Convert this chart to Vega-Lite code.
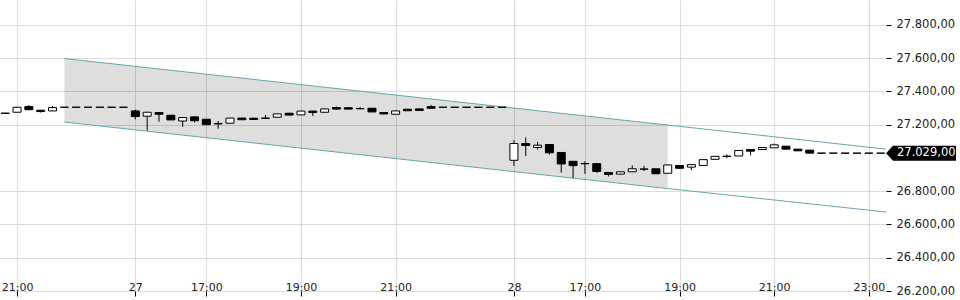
{
  "$schema": "https://vega.github.io/schema/vega-lite/v6.json",
  "width": 886,
  "height": 291,
  "autosize": "none",
  "padding": {"left": 0, "top": 0, "right": 74, "bottom": 9},
  "background": "white",
  "config": {
    "view": {"stroke": null},
    "font": "DejaVu Sans",
    "axisY": {
      "orient": "right", "title": null,
      "labelExpr": "replace(replace(replace(format(datum.value, ',.2f'), ',', '_'), '.', ','), '_', '.')",
      "grid": true, "gridColor": "#dcdcdc", "gridWidth": 1,
      "domain": false, "ticks": true, "tickColor": "#000000", "tickSize": 5,
      "labelPadding": 5, "labelFontSize": 11.5, "labelColor": "#222222", "labelFont": "DejaVu Sans",
      "labelFlush": false, "labelOverlap": false
    }
  },
  "datasets": {
    "candles": [
      {"s": -1, "o": 27268, "h": 27271, "l": 27265, "c": 27270},
      {"s": 0, "o": 27275, "h": 27306, "l": 27274, "c": 27305},
      {"s": 1, "o": 27309, "h": 27318, "l": 27289, "c": 27290},
      {"s": 2, "o": 27287, "h": 27288, "l": 27273, "c": 27279},
      {"s": 3, "o": 27283, "h": 27312, "l": 27282, "c": 27303},
      {"s": 4, "o": 27305, "h": 27305, "l": 27305, "c": 27305},
      {"s": 5, "o": 27305, "h": 27305, "l": 27305, "c": 27305},
      {"s": 6, "o": 27305, "h": 27305, "l": 27305, "c": 27305},
      {"s": 7, "o": 27305, "h": 27305, "l": 27305, "c": 27305},
      {"s": 8, "o": 27305, "h": 27305, "l": 27305, "c": 27305},
      {"s": 9, "o": 27305, "h": 27305, "l": 27305, "c": 27305},
      {"s": 10, "o": 27283, "h": 27290, "l": 27233, "c": 27249},
      {"s": 11, "o": 27251, "h": 27277, "l": 27164, "c": 27275},
      {"s": 12, "o": 27273, "h": 27275, "l": 27218, "c": 27263},
      {"s": 13, "o": 27257, "h": 27258, "l": 27228, "c": 27229},
      {"s": 14, "o": 27222, "h": 27244, "l": 27188, "c": 27243},
      {"s": 15, "o": 27247, "h": 27252, "l": 27214, "c": 27224},
      {"s": 16, "o": 27233, "h": 27234, "l": 27199, "c": 27200},
      {"s": 17, "o": 27205, "h": 27222, "l": 27176, "c": 27207},
      {"s": 18, "o": 27209, "h": 27241, "l": 27208, "c": 27240},
      {"s": 19, "o": 27240, "h": 27241, "l": 27229, "c": 27230},
      {"s": 20, "o": 27239, "h": 27241, "l": 27230, "c": 27232},
      {"s": 21, "o": 27238, "h": 27258, "l": 27237, "c": 27240},
      {"s": 22, "o": 27245, "h": 27266, "l": 27244, "c": 27265},
      {"s": 23, "o": 27269, "h": 27271, "l": 27256, "c": 27258},
      {"s": 24, "o": 27259, "h": 27283, "l": 27258, "c": 27282},
      {"s": 25, "o": 27282, "h": 27283, "l": 27253, "c": 27274},
      {"s": 26, "o": 27275, "h": 27297, "l": 27274, "c": 27295},
      {"s": 27, "o": 27303, "h": 27309, "l": 27292, "c": 27294},
      {"s": 28, "o": 27302, "h": 27306, "l": 27292, "c": 27294},
      {"s": 29, "o": 27296, "h": 27306, "l": 27294, "c": 27297},
      {"s": 30, "o": 27299, "h": 27300, "l": 27276, "c": 27277},
      {"s": 31, "o": 27273, "h": 27274, "l": 27260, "c": 27265},
      {"s": 32, "o": 27263, "h": 27284, "l": 27262, "c": 27283},
      {"s": 33, "o": 27293, "h": 27295, "l": 27282, "c": 27284},
      {"s": 34, "o": 27295, "h": 27298, "l": 27284, "c": 27286},
      {"s": 35, "o": 27309, "h": 27319, "l": 27298, "c": 27299},
      {"s": 36, "o": 27305, "h": 27305, "l": 27305, "c": 27305},
      {"s": 37, "o": 27305, "h": 27305, "l": 27305, "c": 27305},
      {"s": 38, "o": 27305, "h": 27305, "l": 27305, "c": 27305},
      {"s": 39, "o": 27305, "h": 27305, "l": 27305, "c": 27305},
      {"s": 40, "o": 27305, "h": 27305, "l": 27305, "c": 27305},
      {"s": 41, "o": 27305, "h": 27305, "l": 27305, "c": 27305},
      {"s": 42, "o": 26986, "h": 27107, "l": 26952, "c": 27087},
      {"s": 43, "o": 27087, "h": 27124, "l": 27012, "c": 27075},
      {"s": 44, "o": 27063, "h": 27097, "l": 27051, "c": 27077},
      {"s": 45, "o": 27081, "h": 27082, "l": 27021, "c": 27031},
      {"s": 46, "o": 27033, "h": 27034, "l": 26912, "c": 26964},
      {"s": 47, "o": 26980, "h": 26981, "l": 26879, "c": 26954},
      {"s": 48, "o": 26965, "h": 26980, "l": 26905, "c": 26967},
      {"s": 49, "o": 26966, "h": 26967, "l": 26910, "c": 26919},
      {"s": 50, "o": 26913, "h": 26914, "l": 26889, "c": 26901},
      {"s": 51, "o": 26903, "h": 26918, "l": 26902, "c": 26917},
      {"s": 52, "o": 26917, "h": 26955, "l": 26916, "c": 26935},
      {"s": 53, "o": 26932, "h": 26953, "l": 26921, "c": 26934},
      {"s": 54, "o": 26935, "h": 26936, "l": 26904, "c": 26905},
      {"s": 55, "o": 26908, "h": 26959, "l": 26907, "c": 26958},
      {"s": 56, "o": 26955, "h": 26958, "l": 26937, "c": 26938},
      {"s": 57, "o": 26945, "h": 26961, "l": 26926, "c": 26960},
      {"s": 58, "o": 26955, "h": 26991, "l": 26954, "c": 26990},
      {"s": 59, "o": 26992, "h": 27011, "l": 26991, "c": 27010},
      {"s": 60, "o": 27009, "h": 27022, "l": 26998, "c": 27011},
      {"s": 61, "o": 27012, "h": 27046, "l": 27011, "c": 27045},
      {"s": 62, "o": 27051, "h": 27052, "l": 27016, "c": 27041},
      {"s": 63, "o": 27051, "h": 27064, "l": 27050, "c": 27063},
      {"s": 64, "o": 27061, "h": 27087, "l": 27060, "c": 27079},
      {"s": 65, "o": 27071, "h": 27072, "l": 27052, "c": 27053},
      {"s": 66, "o": 27053, "h": 27054, "l": 27042, "c": 27043},
      {"s": 67, "o": 27047, "h": 27048, "l": 27028, "c": 27029},
      {"s": 68, "o": 27029, "h": 27029, "l": 27029, "c": 27029},
      {"s": 69, "o": 27029, "h": 27029, "l": 27029, "c": 27029},
      {"s": 70, "o": 27029, "h": 27029, "l": 27029, "c": 27029},
      {"s": 71, "o": 27029, "h": 27029, "l": 27029, "c": 27029},
      {"s": 72, "o": 27029, "h": 27029, "l": 27029, "c": 27029},
      {"s": 73, "o": 27029, "h": 27029, "l": 27029, "c": 27029}
    ],
    "channel": [
      {"s": 4, "top": 27598, "bot": 27216, "shade": true},
      {"s": 55, "top": 27198, "bot": 26816, "shade": true},
      {"s": 73.45, "top": 27053, "bot": 26675, "shade": false}
    ],
    "last": [{"price": 27029, "label": "27.029,00"}]
  },
  "encoding": {
    "x": {"field": "s", "type": "quantitative",
      "scale": {"domain": [-1.44, 73.45], "nice": false, "zero": false, "padding": 0},
      "axis": {
        "orient": "bottom", "title": null, "values": [0, 10, 16, 24, 32, 42, 48, 56, 64, 72],
        "labelExpr": "datum.value==0?'21:00':datum.value==10?'27':datum.value==16?'17:00':datum.value==24?'19:00':datum.value==32?'21:00':datum.value==42?'28':datum.value==48?'17:00':datum.value==56?'19:00':datum.value==64?'21:00':'23:00'",
        "grid": true, "gridColor": "#dcdcdc", "gridWidth": 1,
        "domain": false, "ticks": true, "tickColor": "#000000", "tickSize": 5,
        "labelPadding": -6, "labelBaseline": "alphabetic", "labelFontSize": 11,
        "labelColor": "#222222", "labelFlush": false, "labelOverlap": false, "labelFont": "DejaVu Sans"
      }}
  },
  "layer": [
    {
      "data": {"name": "channel"},
      "transform": [{"filter": "datum.shade"}],
      "mark": {"type": "area", "fill": "#000000", "fillOpacity": 0.13},
      "encoding": {
        "y": {"field": "top", "type": "quantitative",
          "scale": {"domain": [26200, 27950], "nice": false, "zero": false},
          "axis": {"values": [26200, 26400, 26600, 26800, 27200, 27400, 27600, 27800], "title": null}},
        "y2": {"field": "bot"}
      }
    },
    {
      "data": {"name": "channel"},
      "mark": {"type": "line", "color": "#62a8aa", "strokeWidth": 1},
      "encoding": {
        "y": {"field": "top", "type": "quantitative",
          "axis": {"values": [26200, 26400, 26600, 26800, 27200, 27400, 27600, 27800], "title": null}}
      }
    },
    {
      "data": {"name": "channel"},
      "mark": {"type": "line", "color": "#62a8aa", "strokeWidth": 1},
      "encoding": {
        "y": {"field": "bot", "type": "quantitative",
          "axis": {"values": [26200, 26400, 26600, 26800, 27200, 27400, 27600, 27800], "title": null}}
      }
    },
    {
      "data": {"name": "candles"},
      "mark": {"type": "rule", "color": "#000000", "strokeWidth": 1},
      "encoding": {
        "y": {"field": "l", "type": "quantitative",
          "axis": {"values": [26200, 26400, 26600, 26800, 27200, 27400, 27600, 27800], "title": null}},
        "y2": {"field": "h"}
      }
    },
    {
      "data": {"name": "candles"},
      "transform": [{"filter": "datum.c >= datum.o"}],
      "mark": {"type": "bar", "width": 8, "fill": "#ffffff", "stroke": "#000000", "strokeWidth": 1},
      "encoding": {
        "y": {"field": "o", "type": "quantitative",
          "axis": {"values": [26200, 26400, 26600, 26800, 27200, 27400, 27600, 27800], "title": null}},
        "y2": {"field": "c"}
      }
    },
    {
      "data": {"name": "candles"},
      "transform": [{"filter": "datum.c < datum.o"}],
      "mark": {"type": "bar", "width": 8, "fill": "#000000", "stroke": "#000000", "strokeWidth": 1},
      "encoding": {
        "y": {"field": "o", "type": "quantitative",
          "axis": {"values": [26200, 26400, 26600, 26800, 27200, 27400, 27600, 27800], "title": null}},
        "y2": {"field": "c"}
      }
    },
    {
      "data": {"name": "last"},
      "mark": {"type": "point", "shape": "M0,0L0.7,-0.75L7,-0.75L7,0.75L0.7,0.75Z", "size": 400, "filled": true, "fill": "#000000", "opacity": 1, "strokeWidth": 0},
      "encoding": {
        "x": {"value": "width"},
        "y": {"field": "price", "type": "quantitative",
          "axis": {"values": [26200, 26400, 26600, 26800, 27200, 27400, 27600, 27800], "title": null}}
      }
    },
    {
      "data": {"name": "last"},
      "mark": {"type": "text", "color": "#ffffff", "align": "left", "baseline": "middle", "dx": 11, "fontSize": 11.5, "font": "DejaVu Sans"},
      "encoding": {
        "x": {"value": "width"},
        "y": {"field": "price", "type": "quantitative",
          "axis": {"values": [26200, 26400, 26600, 26800, 27200, 27400, 27600, 27800], "title": null}},
        "text": {"field": "label"}
      }
    }
  ]
}
